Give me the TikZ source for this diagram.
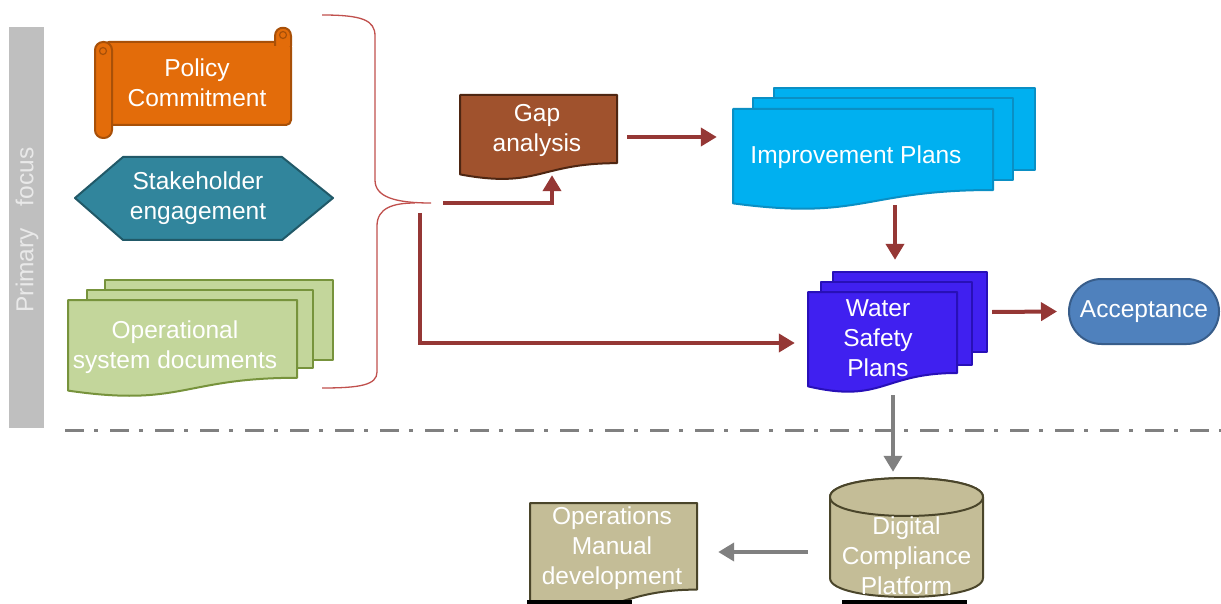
\documentclass[tikz,border=0pt]{standalone}
\usepackage{fontspec}
\setmainfont{Liberation Sans}
\usetikzlibrary{arrows.meta,calc,shapes.misc}
\definecolor{polF}{HTML}{E36C0A}
\definecolor{polB}{HTML}{A85008}
\definecolor{stkF}{HTML}{31859C}
\definecolor{stkB}{HTML}{215968}
\definecolor{opdF}{HTML}{C3D69B}
\definecolor{opdB}{HTML}{77933C}
\definecolor{gapF}{HTML}{A0522D}
\definecolor{gapB}{HTML}{4E2612}
\definecolor{impF}{HTML}{00B0F0}
\definecolor{impB}{HTML}{0A8FC4}
\definecolor{wspF}{HTML}{4020F0}
\definecolor{wspB}{HTML}{2810B8}
\definecolor{accF}{HTML}{4F81BD}
\definecolor{accB}{HTML}{385D8A}
\definecolor{khF}{HTML}{C4BD97}
\definecolor{khB}{HTML}{4A452A}
\definecolor{arrRed}{HTML}{953735}
\definecolor{braceRed}{HTML}{C0504D}
\definecolor{midGray}{HTML}{808080}
\definecolor{barGray}{HTML}{BFBFBF}
\definecolor{barText}{HTML}{E9E9E9}
\newcommand\docpath[5]{%
  \pgfmathsetmacro\dxa{#2+#4}\pgfmathsetmacro\dxm{#2+0.5*#4}%
  \pgfmathsetmacro\dyr{#3+0.802*#5}\pgfmathsetmacro\dyc{#3+1.107*#5}\pgfmathsetmacro\dyl{#3+0.934*#5}%
  \draw[#1] (#2,#3) -- (\dxa,#3) -- (\dxa,\dyr) .. controls (\dxm,\dyr) and (\dxm,\dyc) .. (#2,\dyl) -- cycle;}
\begin{document}
\begin{tikzpicture}[x=1pt,y=-1pt,
  lbl/.style={font=\fontsize{24.5}{30}\selectfont, text=white, align=center, inner sep=0pt},
  sz/.style={inner sep=0pt, draw=none},
  shp/.style={line width=2pt, line join=round},
  redarr/.style={draw=arrRed, line width=4pt, -{Triangle[length=16pt,width=18pt]}},
  grayarr/.style={draw=midGray, line width=4pt, -{Triangle[length=16pt,width=18pt]}},
  bracestyle/.style={draw=braceRed, line width=1.3pt}]
\useasboundingbox (0,0) rectangle (1221,604);

% side bar
\fill[barGray] (9,27) rectangle (44,428);
\node[lbl, rotate=90, font=\fontsize{24.5}{28}\selectfont, text=barText] (pf) at (27,230) {Primary\hspace{22pt}focus};

% policy scroll
\draw[shp, fill=polF, draw=polB, rounded corners=5pt] (104,42) rectangle (291,125);
\draw[shp, fill=polF, draw=polB] (275,46) -- (275,36) .. controls (275,25) and (291,25) .. (291,36) -- (291,46);
\draw[polB, line width=1.2pt] (283,35) circle[radius=3.5pt];
\draw[shp, fill=polF, draw=polB, rounded corners=8pt] (95,42) rectangle (112,138);
\draw[polB, line width=1.2pt] (103,51) circle[radius=3.5pt];
\node[lbl] (pol) at (197,83) {Policy\\Commitment};

% stakeholder hexagon
\draw[shp, fill=stkF, draw=stkB] (75,198) -- (123,157) -- (282,157) -- (333,198) -- (282,240) -- (123,240) -- cycle;
\node[lbl] (stk) at (198,198) {Stakeholder\\engagement};

% operational documents
\draw[shp, fill=opdF, draw=opdB] (105,280) rectangle (333,360);
\draw[shp, fill=opdF, draw=opdB] (87,290) rectangle (313,368);
\docpath{shp, fill=opdF, draw=opdB}{68}{300}{229}{97}
\node[lbl] (opd) at (175,347) {Operational\\system documents};

% brace
\draw[bracestyle] (322,15) .. controls (362,15) and (375,20) .. (375,36) -- (375,180) .. controls (375,197) and (395,203) .. (431,203);
\draw[bracestyle] (415,203) .. controls (393,203) and (377,208) .. (377,226) -- (377,372) .. controls (377,385) and (360,388) .. (322,388);
\coordinate (bt) at (432,203);

% gap analysis
\docpath{shp, fill=gapF, draw=gapB}{460}{95}{157}{85}
\node[sz, minimum width=157pt, minimum height=80pt,
  label={[lbl, xshift=-1.5pt, yshift=5pt]center:Gap\\analysis}] (gap) at (538.5,135) {};

% improvement plans
\draw[shp, fill=impF, draw=impB] (774,88) rectangle (1035,170);
\draw[shp, fill=impF, draw=impB] (753,98) rectangle (1013,180);
\docpath{shp, fill=impF, draw=impB}{733}{109}{260}{101}
\node[sz, minimum width=302pt, minimum height=115pt,
  label={[lbl, xshift=-28pt, yshift=-11.5pt]center:Improvement Plans}] (imp) at (884,145.5) {};

% water safety plans
\draw[shp, fill=wspF, draw=wspB] (833,272) rectangle (987,352);
\draw[shp, fill=wspF, draw=wspB] (821,282) rectangle (972,365);
\docpath{shp, fill=wspF, draw=wspB}{808}{292}{149}{101}
\node[sz, minimum width=179pt, minimum height=114pt,
  label={[lbl, xshift=-19.5pt, yshift=-9pt]center:Water\\Safety\\Plans}] (wsp) at (897.5,329) {};

% acceptance
\node[lbl, rounded rectangle, shp, fill=accF, draw=accB, minimum width=150pt, minimum height=65pt] (acc) at (1144,311.5) {Acceptance};

% dash-dot separator
\draw[midGray, line width=3pt, dash pattern=on 19pt off 10pt on 4pt off 12pt] (65,430) -- (1221,430);

% digital compliance platform (cylinder)
\draw[shp, fill=khF, draw=khB] (830,497) -- (830,578) .. controls (830,603.3) and (983,603.3) .. (983,578) -- (983,497) .. controls (983,471.7) and (830,471.7) .. cycle;
\draw[shp, fill=khF, draw=khB] (830,497) .. controls (830,471.7) and (983,471.7) .. (983,497) .. controls (983,522.3) and (830,522.3) .. cycle;
\node[sz, minimum width=153pt, minimum height=119pt,
  label={[lbl, yshift=-18.5pt]center:Digital\\Compliance\\Platform}] (cyl) at (906.5,537.5) {};
\fill[black] (842,600) rectangle (967,604);

% operations manual
\docpath{shp, fill=khF, draw=khB}{530}{503}{167}{108}
\node[sz, minimum width=167pt, minimum height=101pt,
  label={[lbl, xshift=-1.5pt, yshift=5.5pt]center:Operations\\Manual\\development}] (man) at (613.5,553.5) {};
\fill[black] (527,600) rectangle (632,604);

% connectors
\draw[redarr] ($(bt)+(11,0)$) -| ($(gap.south)+(13.5,0)$);
\draw[redarr] ($(bt)+(-12,10)$) |- ($(wsp.west)+(-13,14)$);
\draw[redarr] ($(gap.east)+(10,2)$) -- ($(gap.east -| imp.west)+(-16,2)$);
\draw[redarr] ($(imp.south)+(11,2)$) -- ($(wsp.north)+(-2.5,-12)$);
\draw[redarr] ($(wsp.east)+(5,-17)$) -- ($(acc.west)+(-11,0)$);
\draw[grayarr] ($(wsp.south)+(-4.5,9)$) -- ($(cyl.north)+(-13.5,-6)$);
\draw[grayarr] ($(cyl.west)+(-22,14.5)$) -- ($(man.east)+(21,-1.5)$);
\end{tikzpicture}
\end{document}
